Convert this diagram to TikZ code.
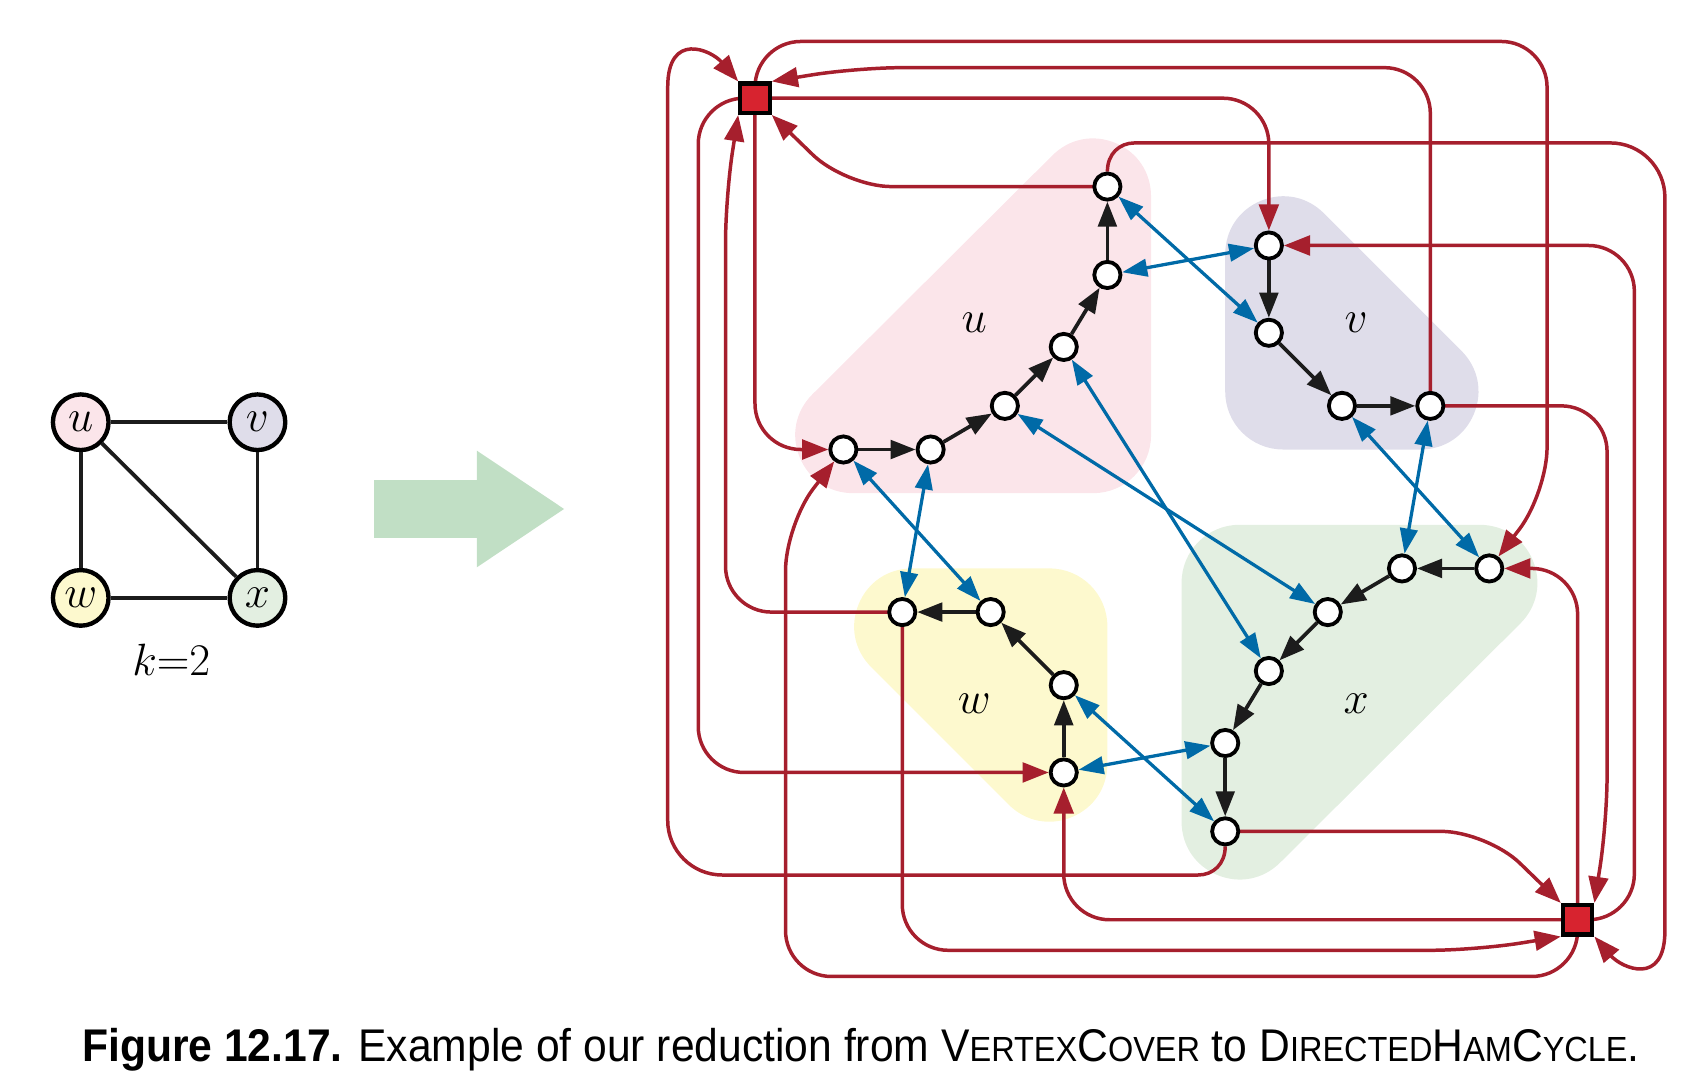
\documentclass[tikz,border=0pt]{standalone}
\usepackage{fontspec}
\newfontfamily\capfont{Liberation Sans}
\usetikzlibrary{arrows.meta}
\definecolor{linered}{HTML}{A61F2D}
\definecolor{selred}{HTML}{D7232F}
\definecolor{lineblue}{HTML}{006AA7}
\definecolor{lineblack}{HTML}{1C1C1C}
\definecolor{upink}{HTML}{FBE5EA}
\definecolor{vlav}{HTML}{DFDDEA}
\definecolor{wyel}{HTML}{FDF9CE}
\definecolor{xgrn}{HTML}{E3EFE1}
\definecolor{arrowgrn}{HTML}{C1DFC5}
\pgfdeclarelayer{bg}\pgfdeclarelayer{edges}\pgfsetlayers{bg,edges,main}
\newcommand{\lab}[1]{\fontsize{21}{21}\selectfont$#1$}
\newcommand{\fsc}[1]{{\fontsize{16}{16}\selectfont #1}}
\tikzset{
  gnode/.style={circle, draw=black, fill=white, line width=1.75pt, minimum size=12pt, inner sep=0pt},
  selnode/.style={rectangle, draw=black, fill=selred, line width=1.9pt, minimum size=13.5pt, inner sep=0pt},
  bignode/.style={circle, draw=black, line width=2pt, minimum size=25.5pt, inner sep=0pt},
  redbase/.style={draw=linered, line width=1.6pt, -{Triangle[length=12pt,width=9pt]}},
  redline/.style={redbase, rounded corners=21pt},
  blueline/.style={draw=lineblue, line width=1.5pt, {Triangle[length=11.5pt,width=8pt]}-{Triangle[length=11.5pt,width=8pt]}},
  blackline/.style={draw=lineblack, line width=1.7pt, -{Triangle[length=11.5pt,width=8.5pt]}},
  graphedge/.style={draw=lineblack, line width=1.75pt},
  region/.style={line width=53pt, line join=round},
}
\begin{document}
\begin{tikzpicture}[x=0.5pt,y=-0.5pt]
\useasboundingbox (0,0) rectangle (1560,986);

% ---------- left graph ----------
\node[bignode, fill=upink] (gu) at (74,387) {\lab{u}};
\node[bignode, fill=vlav]  (gv) at (236,387) {\lab{v}};
\node[bignode, fill=wyel]  (gw) at (74,548) {\lab{w}};
\node[bignode, fill=xgrn]  (gx) at (236,548) {\lab{x}};
\draw[graphedge] (gu) -- (gv);
\draw[graphedge] (gu) -- (gw);
\draw[graphedge] (gv) -- (gx);
\draw[graphedge] (gw) -- (gx);
\draw[graphedge] (gu) -- (gx);
\node (kk) at (157,605) {\lab{k{=}2}};

% ---------- big arrow ----------
\fill[arrowgrn] (343,440) -- (437,440) -- (437,413) -- (517,466.5) -- (437,520) -- (437,493) -- (343,493) -- cycle;

% ---------- regions ----------
\begin{pgfonlayer}{bg}
\filldraw[upink, region] (1002,180) -- (1002,399) -- (782,399) -- cycle;
\filldraw[xgrn, region] (1136,753) -- (1136,534) -- (1356,534) -- cycle;
\filldraw[vlav, region] (1176,233) -- (1176,359) -- (1302,359) -- cycle;
\filldraw[wyel, region] (962,700) -- (962,574) -- (836,574) -- cycle;
\end{pgfonlayer}
\node (lu) at (893,296) {\lab{u}};
\node (lv) at (1243,296) {\lab{v}};
\node (lw) at (893,645) {\lab{w}};
\node (lx) at (1243,645) {\lab{x}};

% ---------- gadget nodes ----------
\node[gnode] (u1) at (773,412) {};
\node[gnode] (u2) at (853,412) {};
\node[gnode] (u3) at (921,372) {};
\node[gnode] (u4) at (975,318) {};
\node[gnode] (u5) at (1015,252) {};
\node[gnode] (u6) at (1015,171) {};
\node[gnode] (x1) at (1365,521) {};
\node[gnode] (x2) at (1285,521) {};
\node[gnode] (x3) at (1217,561) {};
\node[gnode] (x4) at (1163,615) {};
\node[gnode] (x5) at (1123,681) {};
\node[gnode] (x6) at (1123,762) {};
\node[gnode] (v1) at (1163,225) {};
\node[gnode] (v2) at (1163,305) {};
\node[gnode] (v3) at (1230,372) {};
\node[gnode] (v4) at (1311,372) {};
\node[gnode] (w1) at (975,708) {};
\node[gnode] (w2) at (975,628) {};
\node[gnode] (w3) at (908,561) {};
\node[gnode] (w4) at (827,561) {};
\node[selnode] (S1) at (692,90) {};
\node[selnode] (S2) at (1446,843) {};

\begin{pgfonlayer}{edges}
% gadget chains
\draw[blackline] (u1) -- (u2);
\draw[blackline] (u2) -- (u3);
\draw[blackline] (u3) -- (u4);
\draw[blackline] (u4) -- (u5);
\draw[blackline] (u5) -- (u6);
\draw[blackline] (v1) -- (v2);
\draw[blackline] (v2) -- (v3);
\draw[blackline] (v3) -- (v4);
\draw[blackline] (x1) -- (x2);
\draw[blackline] (x2) -- (x3);
\draw[blackline] (x3) -- (x4);
\draw[blackline] (x4) -- (x5);
\draw[blackline] (x5) -- (x6);
\draw[blackline] (w1) -- (w2);
\draw[blackline] (w2) -- (w3);
\draw[blackline] (w3) -- (w4);
% edge gadgets
\draw[blueline] (u6) -- (v2);
\draw[blueline] (u5) -- (v1);
\draw[blueline] (u4) -- (x4);
\draw[blueline] (u3) -- (x3);
\draw[blueline] (u1) -- (w3);
\draw[blueline] (u2) -- (w4);
\draw[blueline] (v3) -- (x1);
\draw[blueline] (v4) -- (x2);
\draw[blueline] (w2) -- (x6);
\draw[blueline] (w1) -- (x5);
% selector S1
\draw[redline] (S1.center) -- (692,38) -- (1418,38) -- (1418,452) -- (x1);
\draw[redline] (v4.center) -- (1311,62) -- (785,62) -- (S1.north east);
\draw[redline] (S1.center) -- (1163,90) -- (v1);
\draw[redline] (u6.center) -- (775,171) -- (S1.south east);
\draw[redline] (S1.center) -- (640,90) -- (640,708) -- (w1);
\draw[redline] (w4.center) -- (665,561) -- (665,180) -- (S1.south west);
\draw[redbase] (x6.south) .. controls (1123,792) and (1112,802) .. (1098,802) -- (662,802)
  .. controls (634.4,802) and (612,779.6) .. (612,752) -- (612,80)
  .. controls (612,28) and (652,46) .. (S1.north west);
\draw[redline] (S1.center) -- (692,412) -- (u1);
% selector S2
\draw[redline] (S2.center) -- (1446,895) -- (720,895) -- (720,481) -- (u1);
\draw[redline] (w4.center) -- (827,871) -- (1353,871) -- (S2.south west);
\draw[redline] (S2.center) -- (975,843) -- (w1);
\draw[redline] (x6.center) -- (1363,762) -- (S2.north west);
\draw[redline] (S2.center) -- (1498,843) -- (1498,225) -- (v1);
\draw[redline] (v4.center) -- (1473,372) -- (1473,753) -- (S2.north east);
\draw[redbase] (u6.north) .. controls (1015,141) and (1026,131) .. (1040,131) -- (1476,131)
  .. controls (1503.6,131) and (1526,153.4) .. (1526,181) -- (1526,853)
  .. controls (1526,905) and (1486,887) .. (S2.south east);
\draw[redline] (S2.center) -- (1446,521) -- (x1);
\end{pgfonlayer}

% ---------- caption ----------
\node (cap) at (789,962) {\scalebox{0.93}[1]{\capfont\fontsize{21}{21}\selectfont\textbf{Figure 12.17.} Example of our reduction from V\fsc{ERTEX}C\fsc{OVER} to D\fsc{IRECTED}H\fsc{AM}C\fsc{YCLE}.}};
\end{tikzpicture}
\end{document}
